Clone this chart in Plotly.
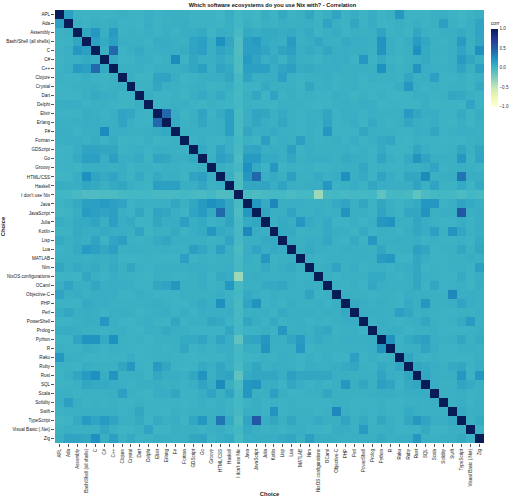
import plotly.graph_objects as go

categories = ["APL", "Ada", "Assembly", "Bash/Shell (all shells)", "C", "C#", "C++", "Clojure",
              "Crystal", "Dart", "Delphi", "Elixir", "Erlang", "F#", "Fortran", "GDScript", "Go",
              "Groovy", "HTML/CSS", "Haskell", "I don't use Nix", "Java", "JavaScript", "Julia",
              "Kotlin", "Lisp", "Lua", "MATLAB", "Nim", "NixOS configurations", "OCaml",
              "Objective-C", "PHP", "Perl", "PowerShell", "Prolog", "Python", "R", "Raku", "Ruby",
              "Rust", "SQL", "Scala", "Solidity", "Swift", "TypeScript", "Visual Basic (.Net)", "Zig"]

# upper triangle of the correlation matrix: row i holds the values for columns i+1 .. 48
upper_rows = [
    # APL
    [0.15, 0.03, 0.02, 0.03, 0.02, 0.03, 0.04, 0.03, 0.02, 0.05, 0.03, 0.04, 0.05, 0.04, 0.02, 0.02,
     0.02, 0.01, 0.06, 0.0, 0.02, 0.01, 0.06, 0.02, 0.08, 0.03, 0.04, 0.1, 0.02, 0.05, 0.12, 0.03,
     0.06, 0.02, 0.06, 0.02, 0.04, 0.2, 0.03, 0.02, 0.02, 0.04, 0.05, 0.03, 0.01, 0.03, 0.05],
    # Ada
    [0.04, 0.03, 0.05, 0.04, 0.06, 0.03, 0.03, 0.02, 0.06, 0.03, 0.04, 0.05, 0.06, 0.03, 0.03, 0.03,
     0.02, 0.05, 0.0, 0.04, 0.02, 0.04, 0.03, 0.05, 0.04, 0.05, 0.05, 0.03, 0.12, 0.05, 0.03, 0.1,
     0.03, 0.07, 0.02, 0.03, 0.05, 0.03, 0.05, 0.03, 0.04, 0.15, 0.04, 0.02, 0.05, 0.12],
    # Assembly
    [0.1, 0.2, 0.05, 0.18, 0.03, 0.04, 0.03, 0.05, 0.03, 0.05, 0.03, 0.06, 0.06, 0.08, 0.02, 0.06,
     0.05, -0.03, 0.08, 0.06, 0.08, 0.08, 0.07, 0.08, 0.05, 0.08, 0.02, 0.05, 0.07, 0.03, 0.05, 0.04,
     0.05, 0.12, 0.03, 0.04, 0.02, 0.1, 0.04, 0.03, 0.05, 0.05, 0.08, 0.04, 0.12],
    # Bash/Shell
    [0.15, 0.08, 0.15, 0.05, 0.04, 0.05, 0.03, 0.07, 0.06, 0.05, 0.04, 0.12, 0.15, 0.05, 0.25, 0.1,
     -0.06, 0.15, 0.18, 0.08, 0.06, 0.05, 0.18, 0.04, 0.06, 0.1, 0.05, 0.04, 0.08, 0.06, 0.06, 0.04,
     0.22, 0.06, 0.03, 0.06, 0.18, 0.1, 0.04, 0.03, 0.05, 0.18, 0.04, 0.1],
    # C
    [0.05, 0.45, 0.03, 0.05, 0.08, 0.04, 0.05, 0.06, 0.05, 0.07, 0.12, 0.15, 0.05, 0.12, 0.08, -0.06,
     0.15, 0.15, 0.12, 0.06, 0.12, 0.15, 0.06, 0.08, 0.05, 0.1, 0.06, 0.06, 0.05, 0.05, 0.04, 0.22,
     0.05, 0.03, 0.04, 0.25, 0.08, 0.04, 0.04, 0.05, 0.12, 0.04, 0.25],
    # C#
    [0.08, 0.02, 0.03, 0.06, 0.05, 0.03, 0.04, 0.28, 0.03, 0.1, 0.06, 0.05, 0.08, 0.04, -0.05, 0.18,
     0.12, 0.05, 0.08, 0.03, 0.1, 0.05, 0.04, 0.03, 0.05, 0.06, 0.06, 0.03, 0.2, 0.03, 0.08, 0.03,
     0.02, 0.04, 0.06, 0.08, 0.04, 0.03, 0.05, 0.18, 0.1, 0.05],
    # C++
    [0.04, 0.04, 0.05, 0.03, 0.05, 0.05, 0.05, 0.07, 0.1, 0.15, 0.04, 0.12, 0.08, -0.05, 0.15, 0.15,
     0.15, 0.06, 0.12, 0.15, 0.07, 0.08, 0.06, 0.06, 0.06, 0.04, 0.05, 0.05, 0.04, 0.25, 0.05, 0.03,
     0.04, 0.22, 0.06, 0.05, 0.04, 0.05, 0.12, 0.04, 0.15],
    # Clojure
    [0.05, 0.02, 0.02, 0.12, 0.12, 0.06, 0.02, 0.03, 0.05, 0.06, 0.05, 0.1, -0.02, 0.12, 0.05, 0.06,
     0.06, 0.15, 0.04, 0.03, 0.04, 0.04, 0.06, 0.03, 0.04, 0.05, 0.03, 0.05, 0.04, 0.04, 0.03, 0.1,
     0.04, 0.05, 0.15, 0.03, 0.03, 0.05, 0.02, 0.04],
    # Crystal
    [0.03, 0.03, 0.1, 0.05, 0.04, 0.03, 0.04, 0.05, 0.02, 0.03, 0.05, -0.01, 0.03, 0.03, 0.08, 0.04,
     0.04, 0.05, 0.02, 0.1, 0.04, 0.05, 0.03, 0.04, 0.05, 0.02, 0.03, 0.03, 0.03, 0.06, 0.2, 0.05,
     0.03, 0.04, 0.03, 0.04, 0.04, 0.02, 0.08],
    # Dart
    [0.05, 0.03, 0.03, 0.04, 0.02, 0.05, 0.08, 0.04, 0.08, 0.03, -0.02, 0.05, 0.1, 0.02, 0.12, 0.03,
     0.05, 0.03, 0.04, 0.03, 0.03, 0.06, 0.04, 0.02, 0.04, 0.02, 0.04, 0.02, 0.02, 0.03, 0.05, 0.05,
     0.03, 0.04, 0.1, 0.08, 0.04, 0.03],
    # Delphi
    [0.02, 0.03, 0.05, 0.05, 0.03, 0.02, 0.04, 0.03, 0.02, -0.01, 0.04, 0.03, 0.03, 0.02, 0.04, 0.04,
     0.04, 0.03, 0.02, 0.03, 0.04, 0.05, 0.04, 0.06, 0.05, 0.02, 0.03, 0.03, 0.02, 0.02, 0.05, 0.02,
     0.03, 0.03, 0.02, 0.12, 0.03],
    # Elixir
    [0.45, 0.07, 0.02, 0.05, 0.12, 0.03, 0.08, 0.15, -0.03, 0.05, 0.12, 0.1, 0.04, 0.08, 0.04, 0.03,
     0.05, 0.05, 0.1, 0.03, 0.06, 0.05, 0.03, 0.05, 0.04, 0.04, 0.04, 0.18, 0.1, 0.06, 0.06, 0.03,
     0.03, 0.08, 0.02, 0.06],
    # Erlang
    [0.08, 0.03, 0.05, 0.1, 0.04, 0.05, 0.15, -0.03, 0.05, 0.1, 0.06, 0.04, 0.1, 0.05, 0.03, 0.05,
     0.04, 0.12, 0.03, 0.04, 0.06, 0.02, 0.08, 0.04, 0.03, 0.04, 0.1, 0.06, 0.04, 0.06, 0.03, 0.02,
     0.05, 0.02, 0.05],
    # F#
    [0.04, 0.04, 0.05, 0.04, 0.05, 0.15, -0.03, 0.1, 0.05, 0.06, 0.08, 0.05, 0.04, 0.03, 0.05, 0.03,
     0.2, 0.03, 0.03, 0.03, 0.1, 0.05, 0.04, 0.04, 0.03, 0.03, 0.06, 0.05, 0.1, 0.03, 0.04, 0.06,
     0.05, 0.04],
    # Fortran
    [0.03, 0.05, 0.03, 0.02, 0.05, -0.01, 0.04, 0.02, 0.15, 0.03, 0.06, 0.04, 0.15, 0.05, 0.03, 0.04,
     0.05, 0.03, 0.06, 0.03, 0.05, 0.08, 0.1, 0.03, 0.02, 0.04, 0.03, 0.03, 0.02, 0.03, 0.02, 0.04,
     0.05],
    # GDScript
    [0.08, 0.03, 0.12, 0.05, -0.03, 0.1, 0.12, 0.05, 0.06, 0.05, 0.15, 0.03, 0.06, 0.04, 0.04, 0.04,
     0.05, 0.03, 0.05, 0.03, 0.08, 0.03, 0.02, 0.03, 0.1, 0.05, 0.03, 0.03, 0.04, 0.1, 0.04, 0.1],
    # Go
    [0.04, 0.15, 0.1, -0.04, 0.18, 0.18, 0.08, 0.08, 0.05, 0.1, 0.04, 0.06, 0.06, 0.06, 0.04, 0.08,
     0.06, 0.05, 0.03, 0.12, 0.05, 0.03, 0.08, 0.22, 0.12, 0.06, 0.05, 0.04, 0.2, 0.03, 0.12],
    # Groovy
    [0.05, 0.03, -0.01, 0.25, 0.08, 0.03, 0.2, 0.03, 0.04, 0.03, 0.04, 0.02, 0.03, 0.04, 0.05, 0.05,
     0.1, 0.03, 0.04, 0.03, 0.03, 0.05, 0.04, 0.06, 0.12, 0.03, 0.04, 0.05, 0.04, 0.03],
    # HTML/CSS
    [0.05, -0.06, 0.2, 0.45, 0.05, 0.08, 0.04, 0.15, 0.04, 0.04, 0.08, 0.04, 0.06, 0.25, 0.05, 0.08,
     0.03, 0.12, 0.06, 0.03, 0.1, 0.1, 0.28, 0.04, 0.05, 0.06, 0.38, 0.06, 0.06],
    # Haskell
    [-0.05, 0.1, 0.1, 0.12, 0.06, 0.12, 0.05, 0.04, 0.06, 0.06, 0.2, 0.03, 0.04, 0.06, 0.03, 0.1,
     0.06, 0.05, 0.05, 0.05, 0.12, 0.04, 0.12, 0.03, 0.03, 0.08, 0.02, 0.08],
    # I don't use Nix
    [-0.03, -0.05, -0.03, -0.02, -0.02, -0.04, -0.02, -0.02, -0.35, -0.02, -0.01, -0.03, -0.02, -0.02,
     -0.01, -0.12, -0.02, -0.01, -0.03, -0.12, -0.04, -0.02, -0.01, -0.02, -0.05, -0.01, -0.03],
    # Java
    [0.2, 0.08, 0.3, 0.05, 0.06, 0.06, 0.04, 0.05, 0.04, 0.08, 0.12, 0.04, 0.1, 0.03, 0.1, 0.05,
     0.02, 0.05, 0.08, 0.2, 0.2, 0.03, 0.05, 0.12, 0.08, 0.05],
    # JavaScript
    [0.1, 0.06, 0.05, 0.12, 0.04, 0.04, 0.06, 0.04, 0.05, 0.22, 0.05, 0.06, 0.03, 0.12, 0.05, 0.03,
     0.1, 0.1, 0.22, 0.04, 0.06, 0.05, 0.55, 0.05, 0.06],
    # Julia
    [0.04, 0.08, 0.06, 0.2, 0.08, 0.05, 0.08, 0.03, 0.03, 0.05, 0.03, 0.05, 0.2, 0.22, 0.04, 0.04,
     0.1, 0.06, 0.04, 0.03, 0.03, 0.06, 0.03, 0.06],
    # Kotlin
    [0.08, 0.08, 0.03, 0.04, 0.04, 0.08, 0.06, 0.05, 0.03, 0.08, 0.03, 0.05, 0.04, 0.03, 0.06, 0.1,
     0.06, 0.15, 0.04, 0.22, 0.1, 0.04, 0.06],
    # Lisp
    [0.06, 0.04, 0.06, 0.05, 0.1, 0.04, 0.03, 0.08, 0.03, 0.2, 0.05, 0.05, 0.06, 0.05, 0.06, 0.03,
     0.05, 0.03, 0.03, 0.04, 0.03, 0.08],
    # Lua
    [0.05, 0.08, 0.05, 0.05, 0.04, 0.06, 0.05, 0.05, 0.04, 0.1, 0.04, 0.04, 0.05, 0.15, 0.1, 0.03,
     0.04, 0.04, 0.1, 0.04, 0.1],
    # MATLAB
    [0.04, 0.03, 0.04, 0.05, 0.04, 0.05, 0.05, 0.05, 0.18, 0.2, 0.03, 0.03, 0.1, 0.06, 0.03, 0.03,
     0.04, 0.04, 0.06, 0.04],
    # Nim
    [0.04, 0.06, 0.12, 0.04, 0.06, 0.03, 0.04, 0.05, 0.03, 0.05, 0.06, 0.1, 0.03, 0.04, 0.03, 0.04,
     0.05, 0.03, 0.15],
    # NixOS configurations
    [0.05, 0.03, 0.05, 0.04, 0.04, 0.08, 0.08, 0.04, 0.03, 0.05, 0.1, 0.05, 0.04, 0.03, 0.03, 0.08,
     0.03, 0.06],
    # OCaml
    [0.04, 0.03, 0.05, 0.03, 0.1, 0.05, 0.04, 0.05, 0.05, 0.1, 0.03, 0.1, 0.03, 0.04, 0.05, 0.02,
     0.06],
    # Objective-C
    [0.05, 0.04, 0.04, 0.03, 0.04, 0.04, 0.03, 0.06, 0.05, 0.05, 0.04, 0.04, 0.3, 0.05, 0.06, 0.05],
    # PHP
    [0.08, 0.06, 0.04, 0.06, 0.04, 0.03, 0.08, 0.05, 0.2, 0.04, 0.04, 0.05, 0.12, 0.06, 0.04],
    # Perl
    [0.06, 0.05, 0.05, 0.05, 0.15, 0.1, 0.04, 0.05, 0.04, 0.03, 0.03, 0.04, 0.04, 0.05],
    # PowerShell
    [0.03, 0.06, 0.04, 0.03, 0.04, 0.05, 0.1, 0.04, 0.03, 0.04, 0.08, 0.18, 0.04],
    # Prolog
    [0.05, 0.06, 0.05, 0.03, 0.04, 0.04, 0.05, 0.03, 0.03, 0.03, 0.04, 0.05],
    # Python
    [0.22, 0.03, 0.08, 0.12, 0.15, 0.06, 0.04, 0.05, 0.1, 0.04, 0.08],
    # R
    [0.04, 0.05, 0.05, 0.12, 0.06, 0.03, 0.03, 0.05, 0.05, 0.04],
    # Raku
    [0.1, 0.04, 0.03, 0.04, 0.03, 0.03, 0.03, 0.03, 0.05],
    # Ruby
    [0.1, 0.08, 0.06, 0.04, 0.08, 0.1, 0.03, 0.06],
    # Rust
    [0.1, 0.06, 0.05, 0.05, 0.2, 0.03, 0.2],
    # SQL
    [0.06, 0.04, 0.04, 0.12, 0.08, 0.04],
    # Scala
    [0.04, 0.05, 0.06, 0.03, 0.04],
    # Solidity
    [0.04, 0.06, 0.03, 0.05],
    # Swift
    [0.08, 0.05, 0.05],
    # TypeScript
    [0.04, 0.08],
    # Visual Basic (.Net)
    [0.03],
]

colorbar_ticks = [-1.0, -0.5, 0.0, 0.5, 1.0]
ylgnbu = ["#ffffd9", "#edf8b1", "#c7e9b4", "#7fcdbb", "#41b6c4",
          "#1d91c0", "#225ea8", "#253494", "#081d58"]

n = len(categories)
for i, row in enumerate(upper_rows):
    if len(row) != n - i - 1:
        raise ValueError(f"row {i} ({categories[i]}) has {len(row)} values, expected {n - i - 1}")

z = [[1.0] * n for _ in range(n)]
for i, row in enumerate(upper_rows):
    for k, v in enumerate(row):
        j = i + 1 + k
        z[i][j] = v
        z[j][i] = v

colorscale = [[k / (len(ylgnbu) - 1), c] for k, c in enumerate(ylgnbu)]

fig = go.Figure(go.Heatmap(
    z=z, x=categories, y=categories,
    zmin=-1, zmax=1, colorscale=colorscale,
    colorbar=dict(
        title=dict(text="corr", side="top", font=dict(size=5, color="#222")),
        thickness=7, len=0.205, lenmode="fraction",
        y=0.982, yanchor="top", x=1.016, xanchor="left", xpad=0, ypad=0,
        tickvals=colorbar_ticks, tickformat=".1f",
        tickfont=dict(size=4.6, color="#333"), outlinewidth=0, ticks="",
    ),
))

fig.update_layout(
    width=517, height=499,
    margin=dict(l=55, r=27, t=10, b=56),
    paper_bgcolor="white", plot_bgcolor="white",
    font=dict(family="Liberation Sans, Arial, sans-serif", size=5, color="#222"),
    title=dict(text="<b>Which software ecosystems do you use Nix with? - Correlation</b>",
               x=0.527, xanchor="center", y=0.99, yanchor="middle",
               font=dict(size=5.6, color="#111")),
)
fig.update_xaxes(title=dict(text="<b>Choice</b>", font=dict(size=5.8), standoff=0),
                 tickangle=-90, tickfont=dict(size=4.6), ticks="outside", ticklen=3,
                 tickcolor="#555", showgrid=False, zeroline=False, showline=False,
                 automargin=False)
fig.update_yaxes(title=dict(text="<b>Choice</b>", font=dict(size=5.8), standoff=0),
                 autorange="reversed", tickfont=dict(size=4.6), ticks="outside", ticklen=3,
                 tickcolor="#555", showgrid=False, zeroline=False, showline=False,
                 automargin=False)

fig.write_html("out.html", config={"displayModeBar": False},
               post_script="document.body.style.margin='0';")
